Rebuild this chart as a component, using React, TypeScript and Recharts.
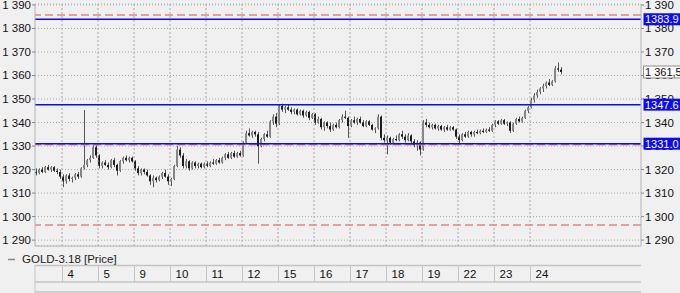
import React from "react";
import {
  ComposedChart,
  Bar,
  XAxis,
  YAxis,
  CartesianGrid,
  ReferenceLine,
} from "recharts";

// [open, high, low, close] per 2h candle, grouped by trading day
const d03 = [
  [1319.0, 1320.5, 1317.5, 1318.5], [1318.5, 1320.5, 1318.0, 1320.0], [1320.0, 1321.0, 1318.5, 1319.0],
  [1319.0, 1321.5, 1318.5, 1321.0], [1321.0, 1322.0, 1319.5, 1320.0], [1320.0, 1321.5, 1319.0, 1321.0],
  [1321.0, 1321.5, 1319.0, 1319.5], [1319.5, 1320.5, 1318.0, 1319.0], [1319.0, 1320.0, 1316.0, 1317.0],
];
const d04 = [
  [1317.0, 1318.0, 1312.5, 1315.0], [1315.0, 1318.0, 1314.0, 1317.5], [1317.5, 1318.5, 1315.0, 1316.0],
  [1316.0, 1317.0, 1314.5, 1316.5], [1316.5, 1318.5, 1315.5, 1318.0], [1318.0, 1319.0, 1316.0, 1317.0],
  [1317.0, 1321.0, 1316.5, 1320.5], [1320.5, 1345.3, 1320.0, 1322.0], [1322.0, 1324.5, 1321.0, 1324.0],
  [1324.0, 1326.0, 1323.0, 1325.0], [1325.0, 1331.0, 1324.5, 1329.5], [1329.5, 1330.5, 1325.0, 1326.0],
];
const d05 = [
  [1326.0, 1326.5, 1320.5, 1321.5], [1321.5, 1323.5, 1320.5, 1323.0], [1323.0, 1324.0, 1321.5, 1322.0],
  [1322.0, 1323.0, 1320.0, 1321.0], [1321.0, 1324.5, 1320.5, 1324.0], [1324.0, 1325.0, 1321.0, 1322.0],
  [1322.0, 1322.5, 1317.5, 1319.5], [1319.5, 1324.0, 1319.0, 1323.5], [1323.5, 1325.5, 1322.5, 1325.0],
  [1325.0, 1326.0, 1323.5, 1324.0], [1324.0, 1325.5, 1323.0, 1325.0], [1325.0, 1325.5, 1323.0, 1323.5],
];
const d09 = [
  [1323.5, 1324.0, 1319.5, 1320.5], [1320.5, 1321.5, 1317.5, 1318.5], [1318.5, 1320.5, 1317.5, 1320.0],
  [1320.0, 1320.5, 1318.0, 1319.0], [1319.0, 1320.0, 1317.0, 1317.5], [1317.5, 1318.0, 1313.5, 1315.0],
  [1315.0, 1317.5, 1312.5, 1316.5], [1316.5, 1317.0, 1314.5, 1315.5], [1315.5, 1317.5, 1315.0, 1317.0],
  [1317.0, 1319.0, 1316.0, 1318.5], [1318.5, 1320.0, 1316.5, 1317.0], [1317.0, 1318.0, 1313.5, 1315.0],
];
const d10 = [
  [1315.0, 1316.5, 1313.0, 1316.0], [1316.0, 1322.0, 1315.5, 1321.5], [1321.5, 1330.0, 1321.0, 1328.5],
  [1328.5, 1329.5, 1325.0, 1326.0], [1326.0, 1327.0, 1320.5, 1321.5], [1321.5, 1324.5, 1320.5, 1323.5],
  [1323.5, 1324.0, 1319.5, 1320.5], [1320.5, 1323.5, 1320.0, 1323.0], [1323.0, 1323.5, 1320.5, 1321.5],
  [1321.5, 1323.0, 1320.5, 1322.5], [1322.5, 1323.0, 1320.5, 1321.0], [1321.0, 1323.0, 1320.5, 1322.5],
];
const d11 = [
  [1322.5, 1323.5, 1321.0, 1321.5], [1321.5, 1323.5, 1321.0, 1323.0], [1323.0, 1324.5, 1322.0, 1322.5],
  [1322.5, 1324.5, 1322.0, 1324.0], [1324.0, 1325.0, 1322.5, 1323.0], [1323.0, 1325.5, 1322.5, 1325.0],
  [1325.0, 1327.0, 1324.0, 1326.5], [1326.5, 1327.5, 1324.5, 1325.0], [1325.0, 1327.5, 1324.5, 1327.0],
  [1327.0, 1328.0, 1325.0, 1325.5], [1325.5, 1327.5, 1325.0, 1327.0], [1327.0, 1328.0, 1325.5, 1326.0],
];
const d12 = [
  [1326.0, 1332.0, 1325.5, 1331.5], [1331.5, 1336.5, 1331.0, 1335.5], [1335.5, 1337.5, 1334.0, 1334.5],
  [1334.5, 1336.5, 1333.5, 1336.0], [1336.0, 1336.5, 1334.0, 1335.0], [1335.0, 1336.0, 1322.5, 1330.0],
  [1330.0, 1333.5, 1329.5, 1333.0], [1333.0, 1335.5, 1332.0, 1335.0], [1335.0, 1336.5, 1333.5, 1334.0],
  [1334.0, 1341.0, 1333.5, 1340.5], [1340.5, 1343.5, 1339.0, 1342.5], [1342.5, 1344.0, 1338.0, 1339.5],
];
const d15 = [
  [1339.5, 1347.5, 1339.0, 1347.0], [1347.0, 1348.0, 1344.5, 1345.5], [1345.5, 1347.0, 1344.0, 1346.5],
  [1346.5, 1347.5, 1345.0, 1345.5], [1345.5, 1346.5, 1343.5, 1344.5], [1344.5, 1346.0, 1343.5, 1345.5],
  [1345.5, 1346.0, 1343.0, 1343.5], [1343.5, 1345.5, 1343.0, 1345.0], [1345.0, 1345.5, 1342.0, 1343.0],
  [1343.0, 1345.0, 1342.5, 1344.5], [1344.5, 1345.0, 1341.0, 1342.0], [1342.0, 1344.0, 1341.5, 1343.5],
];
const d16 = [
  [1343.5, 1344.0, 1339.0, 1340.0], [1340.0, 1342.5, 1339.5, 1341.5], [1341.5, 1342.0, 1337.0, 1338.0],
  [1338.0, 1340.5, 1336.5, 1340.0], [1340.0, 1340.5, 1337.5, 1338.5], [1338.5, 1340.0, 1336.0, 1337.0],
  [1337.0, 1339.5, 1336.5, 1339.0], [1339.0, 1340.0, 1337.5, 1338.0], [1338.0, 1341.5, 1337.5, 1341.0],
  [1341.0, 1343.5, 1340.0, 1342.5], [1342.5, 1345.0, 1341.5, 1342.0], [1342.0, 1342.5, 1333.5, 1338.5],
];
const d17 = [
  [1338.5, 1341.5, 1338.0, 1341.0], [1341.0, 1342.5, 1339.5, 1340.0], [1340.0, 1342.0, 1339.0, 1341.5],
  [1341.5, 1342.5, 1339.5, 1340.0], [1340.0, 1341.0, 1338.0, 1338.5], [1338.5, 1341.0, 1338.0, 1340.5],
  [1340.5, 1341.0, 1338.5, 1339.0], [1339.0, 1339.5, 1336.5, 1337.0], [1337.0, 1338.0, 1335.5, 1337.5],
  [1337.5, 1343.5, 1337.0, 1342.5], [1342.5, 1343.0, 1332.5, 1333.5], [1333.5, 1335.0, 1331.5, 1332.5],
];
const d18 = [
  [1332.5, 1334.5, 1326.5, 1333.5], [1333.5, 1334.0, 1330.5, 1331.5], [1331.5, 1333.5, 1330.5, 1333.0],
  [1333.0, 1334.5, 1332.0, 1332.5], [1332.5, 1335.5, 1332.0, 1335.0], [1335.0, 1336.5, 1333.0, 1334.0],
  [1334.0, 1335.0, 1331.5, 1332.5], [1332.5, 1335.5, 1332.0, 1334.5], [1334.5, 1335.0, 1331.0, 1332.0],
  [1332.0, 1333.0, 1329.5, 1330.5], [1330.5, 1332.5, 1328.0, 1331.5], [1331.5, 1332.0, 1326.0, 1328.5],
];
const d19 = [
  [1328.5, 1341.0, 1328.0, 1340.0], [1340.0, 1341.5, 1338.0, 1339.0], [1339.0, 1340.0, 1337.5, 1338.0],
  [1338.0, 1339.5, 1337.0, 1339.0], [1339.0, 1339.5, 1337.0, 1337.5], [1337.5, 1339.0, 1336.5, 1338.5],
  [1338.5, 1339.0, 1336.5, 1337.0], [1337.0, 1338.5, 1336.0, 1338.0], [1338.0, 1339.0, 1336.5, 1337.0],
  [1337.0, 1338.5, 1336.5, 1338.0], [1338.0, 1338.5, 1336.5, 1337.0], [1337.0, 1337.5, 1333.0, 1334.0],
];
const d22 = [
  [1334.0, 1335.0, 1331.0, 1332.5], [1332.5, 1335.5, 1332.0, 1335.0], [1335.0, 1336.0, 1333.5, 1334.0],
  [1334.0, 1336.5, 1333.5, 1336.0], [1336.0, 1336.5, 1334.0, 1335.0], [1335.0, 1336.5, 1334.0, 1336.0],
  [1336.0, 1337.0, 1335.0, 1335.5], [1335.5, 1337.0, 1335.0, 1336.5], [1336.5, 1337.5, 1335.5, 1336.0],
  [1336.0, 1337.5, 1335.5, 1337.0], [1337.0, 1338.0, 1336.0, 1336.5], [1336.5, 1339.5, 1336.0, 1339.0],
];
const d23 = [
  [1339.0, 1341.0, 1338.0, 1340.5], [1340.5, 1341.0, 1339.0, 1339.5], [1339.5, 1341.5, 1339.0, 1341.0],
  [1341.0, 1341.5, 1339.0, 1339.5], [1339.5, 1340.5, 1338.5, 1340.0], [1340.0, 1340.5, 1335.5, 1336.5],
  [1336.5, 1340.0, 1336.0, 1339.5], [1339.5, 1342.0, 1339.0, 1341.5], [1341.5, 1342.5, 1340.0, 1340.5],
  [1340.5, 1342.5, 1340.0, 1342.0], [1342.0, 1345.5, 1341.5, 1345.0], [1345.0, 1347.0, 1344.0, 1346.5],
];
const d24 = [
  [1346.5, 1350.5, 1346.0, 1349.5], [1349.5, 1352.5, 1348.5, 1351.5], [1351.5, 1354.0, 1350.5, 1353.0],
  [1353.0, 1355.0, 1352.0, 1354.5], [1354.5, 1356.5, 1353.0, 1355.5], [1355.5, 1357.5, 1354.5, 1357.0],
  [1357.0, 1358.5, 1355.5, 1356.0], [1356.0, 1358.0, 1355.5, 1357.5], [1357.5, 1364.0, 1357.0, 1363.0],
  [1363.0, 1365.5, 1361.5, 1362.5], [1362.5, 1363.5, 1360.5, 1361.5],
];

const days = [d03, d04, d05, d09, d10, d11, d12, d15, d16, d17, d18, d19, d22, d23, d24];
const dayLabels = ["", "4", "5", "9", "10", "11", "12", "15", "16", "17", "18", "19", "22", "23", "24"];

const priceTicks = [1290, 1300, 1310, 1320, 1330, 1340, 1350, 1360, 1370, 1380, 1390];
const supportLevels = [1383.9, 1347.6, 1331.0];
const dashedLevels = [1385.7, 1330.5, 1296.4];
const lastPrice = 1361.5;

const Y_DOMAIN = [1287.5, 1390.4];
const SLOTS = 202; // 2h slots visible on the time axis
const PLOT_LEFT = 35;
const PLOT_RIGHT = 641;
const SLOT_W = (PLOT_RIGHT - PLOT_LEFT) / SLOTS;
const MARGIN = { top: 4, right: 0, bottom: 0, left: 0 };

const data = days.flat().map((c, i) => ({ i, o: c[0], h: c[1], l: c[2], c: c[3] }));

// day boundaries (between last candle of one day and first of next)
const boundaries: number[] = [];
let acc = 0;
days.forEach((d, k) => {
  acc += d.length;
  if (k < days.length - 1) boundaries.push(acc - 0.5);
});

const fmt = (v: number) => String(v).replace(/\B(?=(\d{3})+(?!\d))/g, " ");

const FONT = '"Liberation Sans", Arial, sans-serif';
const BLUE = "#0b0bf5";
const RED = "#e8837a";
const GRID = "#a9a9a9";

const Candle = (props: any) => {
  const { x, y, width, height, payload } = props;
  if (!payload || x == null) return null;
  const top = Math.min(y, y + height);
  const hh = Math.abs(height);
  const k = payload.h === payload.l ? 0 : hh / (payload.h - payload.l);
  const py = (v: number) => top + (payload.h - v) * k;
  const left = Math.round(x + width / 2 - 1);
  const bull = payload.c >= payload.o;
  const bTop = py(Math.max(payload.o, payload.c));
  const bBot = py(Math.min(payload.o, payload.c));
  return (
    <g>
      <line x1={left + 1.5} x2={left + 1.5} y1={top} y2={top + hh} stroke="#555" strokeWidth={1} />
      <rect
        x={left}
        y={bTop}
        width={2}
        height={Math.max(1, bBot - bTop)}
        fill={bull ? "#858585" : "#1c1c1c"}
      />
    </g>
  );
};

const PriceTick = (anchor: "start" | "end") => (p: any) => (
  <text
    x={p.x}
    y={p.y}
    dy={4}
    textAnchor={anchor}
    fontSize={11.5}
    fontFamily={FONT}
    fill="#111"
  >
    {fmt(p.payload.value)}
  </text>
);

const tagLabel = (text: string, bg: string, fg: string, border?: string) => (p: any) => {
  const vb = p.viewBox || {};
  const x = (vb.x || 0) + (vb.width || 0) + 2;
  const y = vb.y || 0;
  return (
    <g>
      <rect x={x + 0.5} y={y - 6} width={40} height={12} fill={bg} stroke={border || "none"} />
      <text x={x + 2} y={y + 4} fill={fg} fontSize={11} fontFamily={FONT}>
        {text}
      </text>
    </g>
  );
};

export default function App() {
  return (
    <div
      style={{
        position: "fixed",
        left: 0,
        top: 0,
        width: 680,
        height: 293,
        background: "#f0f0f0",
        fontFamily: FONT,
        overflow: "hidden",
      }}
    >
      <div style={{ position: "absolute", left: 0, top: 0 }}>
        <ComposedChart width={680} height={247} data={data} margin={MARGIN}>
          <CartesianGrid yAxisId="right" vertical={false} stroke={GRID} strokeDasharray="1 2" />
          <XAxis
            dataKey="i"
            type="number"
            domain={[-0.5, SLOTS - 0.5]}
            allowDataOverflow
            height={1}
            tick={false}
            tickLine={false}
            axisLine={{ stroke: "#b4b4b4" }}
          />
          <YAxis
            yAxisId="left"
            orientation="left"
            width={35}
            domain={Y_DOMAIN}
            allowDataOverflow
            ticks={priceTicks}
            interval={0}
            tick={PriceTick("end")}
            tickSize={3}
            tickMargin={1}
            axisLine={{ stroke: "#b4b4b4" }}
            tickLine={{ stroke: "#888" }}
          />
          <YAxis
            yAxisId="right"
            orientation="right"
            width={39}
            domain={Y_DOMAIN}
            allowDataOverflow
            ticks={priceTicks}
            interval={0}
            tick={PriceTick("start")}
            tickSize={3}
            tickMargin={1}
            axisLine={{ stroke: "#b4b4b4" }}
            tickLine={{ stroke: "#888" }}
          />
          {boundaries.map((b) => (
            <ReferenceLine key={b} x={b} yAxisId="right" stroke={GRID} strokeDasharray="2 2" />
          ))}
          {dashedLevels.map((v) => (
            <ReferenceLine key={"d" + v} y={v} yAxisId="right" stroke={RED} strokeWidth={1.5} strokeDasharray="8 4" />
          ))}
          <Bar
            yAxisId="right"
            dataKey={(d: any) => [d.l, d.h]}
            barSize={3}
            shape={Candle}
            isAnimationActive={false}
          />
          {supportLevels.map((v) => (
            <ReferenceLine key={"s" + v} y={v} yAxisId="right" stroke={BLUE} strokeWidth={1.5} />
          ))}
        </ComposedChart>
      </div>
      {/* price tags drawn in an overlay chart so they sit above the axis labels */}
      <div style={{ position: "absolute", left: 0, top: 0 }}>
        <ComposedChart width={680} height={247} data={data} margin={{ top: 4, right: 39, bottom: 1, left: 35 }}>
          <XAxis dataKey="i" type="number" domain={[-0.5, SLOTS - 0.5]} allowDataOverflow hide />
          <YAxis yAxisId="right" domain={Y_DOMAIN} allowDataOverflow hide />
          {supportLevels.map((v) => (
            <ReferenceLine
              key={"t" + v}
              y={v}
              yAxisId="right"
              stroke="none"
              ifOverflow="visible"
              label={tagLabel(v.toFixed(1), BLUE, "#fff")}
            />
          ))}
          <ReferenceLine
            y={lastPrice}
            yAxisId="right"
            stroke="none"
            ifOverflow="visible"
            label={tagLabel(
              fmt(Math.floor(lastPrice)) + "," + String(lastPrice).split(".")[1],
              "#fafafa",
              "#111",
              "#909090"
            )}
          />
        </ComposedChart>
      </div>
      <svg width={680} height={46} style={{ position: "absolute", left: 0, top: 247 }}>
        <line x1={8} x2={15} y1={12.5} y2={12.5} stroke="#888" strokeWidth={1.5} />
        <text x={22} y={16} fontSize={11.5} fontFamily={FONT} fill="#222">
          GOLD-3.18 [Price]
        </text>
        <line x1={PLOT_LEFT} x2={PLOT_RIGHT} y1={18.5} y2={18.5} stroke="#c4c4c4" strokeWidth={1.5} />
        <line x1={PLOT_LEFT} x2={PLOT_RIGHT} y1={35} y2={35} stroke="#c4c4c4" strokeWidth={1.5} />
        <line x1={PLOT_LEFT} x2={PLOT_RIGHT} y1={45} y2={45} stroke="#c4c4c4" strokeWidth={1.5} />
        <line x1={PLOT_LEFT} x2={PLOT_LEFT} y1={18} y2={46} stroke="#c4c4c4" />
        {boundaries.map((b, k) => {
          const x = Math.round(PLOT_LEFT + (b + 0.5) * SLOT_W) + 0.5;
          return (
            <g key={"t" + b}>
              <line x1={x} x2={x} y1={18} y2={35} stroke="#c4c4c4" />
              <text x={x + 5} y={31} fontSize={11.5} fontFamily={FONT} fill="#111">
                {dayLabels[k + 1]}
              </text>
            </g>
          );
        })}
      </svg>
    </div>
  );
}
